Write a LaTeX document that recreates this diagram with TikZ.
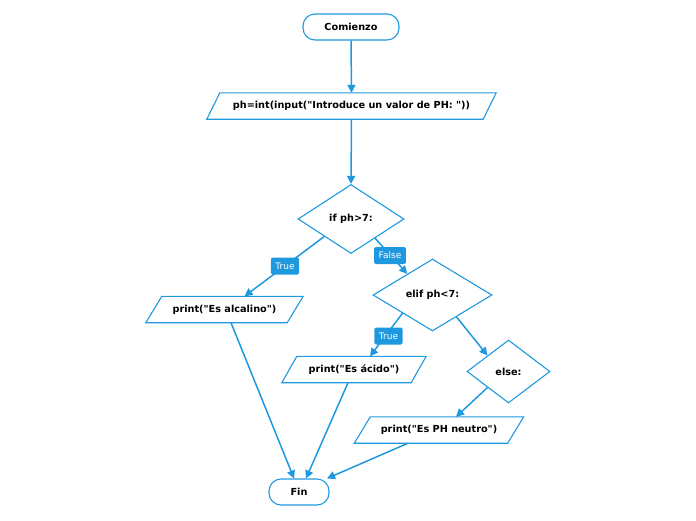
\documentclass[tikz,border=0pt]{standalone}
\usepackage{fontspec}
\setmainfont[Ligatures=TeXReset]{DejaVu Sans}
\usetikzlibrary{shapes.geometric,arrows.meta,calc}
\definecolor{fcblue}{RGB}{30,152,222}
\tikzset{
  every node/.style={font=\fontsize{9.7}{11}\selectfont\bfseries, text=black},
  term/.style={draw=fcblue, line width=1.1pt, rounded corners=12pt, minimum height=26pt, inner sep=0pt},
  iobox/.style={minimum height=26pt, inner sep=0pt},
  cond/.style={draw=fcblue, line width=1.1pt, shape=diamond, inner sep=0pt},
  lbl/.style={fill=fcblue, text=white, rounded corners=1.5pt, font=\fontsize{9}{10}\selectfont, inner xsep=4.5pt, minimum height=17pt},
  conn/.style={draw=fcblue, line width=1.5pt, -{Triangle[length=8pt,width=8pt]}},
}
\newcommand{\paraframe}[2]{\draw[fcblue, line width=1.1pt] ([xshift=#2]#1.north west) -- ([xshift=#2]#1.north east) -- ([xshift=-#2]#1.south east) -- ([xshift=-#2]#1.south west) -- cycle;}
\begin{document}
\begin{tikzpicture}[x=1pt,y=-1pt]
\useasboundingbox (0,0) rectangle (696,520);
\node[term, minimum width=96pt] (start) at (351,27) {Comienzo};
\node[iobox, minimum width=276pt] (inp) at (351.5,106) {ph=int(input("Introduce un valor de PH: "))};
\paraframe{inp}{6.5pt}
\node[cond, minimum width=106pt, minimum height=69pt] (d1) at (351,219) {if ph>7:};
\node[iobox, minimum width=141pt] (alc) at (224.5,309.5) {print("Es alcalino")};
\paraframe{alc}{8pt}
\node[cond, minimum width=119pt, minimum height=72pt] (d2) at (432.5,295) {elif ph<7:};
\node[iobox, minimum width=129pt] (aci) at (354,369.5) {print("Es ácido")};
\paraframe{aci}{7.5pt}
\node[cond, minimum width=83pt, minimum height=63pt] (d3) at (508.5,371.5) {else:};
\node[iobox, minimum width=153pt] (neu) at (439,430) {print("Es PH neutro")};
\paraframe{neu}{8pt}
\node[term, minimum width=60pt] (fin) at (299,492) {Fin};

\draw[conn] (start.south) -- (inp.north);
\draw[conn] (inp.south) -- (d1.north);
\draw[conn] ($(d1.west)!0.5!(d1.south)$) -- ([xshift=20pt]alc.north);
\draw[conn] ($(d1.south)!0.45!(d1.east)$) -- ($(d2.west)!0.58!(d2.north)$);
\draw[conn] ($(d2.west)!0.5!(d2.south)$) -- ([xshift=16pt]aci.north);
\draw[conn] ($(d2.south)!0.4!(d2.east)$) -- ($(d3.west)!0.5!(d3.north)$);
\draw[conn] ($(d3.west)!0.5!(d3.south)$) -- ([xshift=17pt]neu.north);
\draw[conn] ([xshift=6.5pt]alc.south) -- ([xshift=-5pt]fin.north);
\draw[conn] ([xshift=-6pt]aci.south) -- ([xshift=7pt]fin.north);
\draw[conn] ([xshift=-31pt]neu.south) -- ([xshift=28pt]fin.north);

\node[lbl] (t1) at (285,266) {True};
\node[lbl] (f1) at (390,255.5) {False};
\node[lbl] (t2) at (388.5,336) {True};
\end{tikzpicture}
\end{document}
